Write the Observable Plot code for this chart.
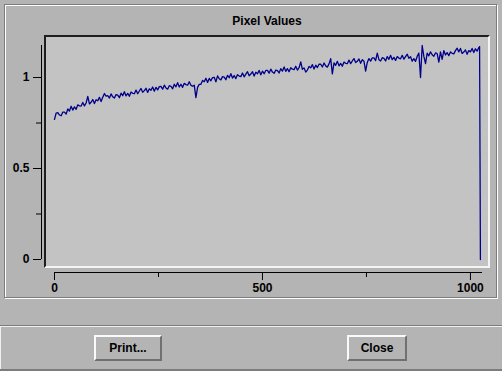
<!DOCTYPE html>
<html>
<head>
<meta charset="utf-8">
<script src="https://cdn.jsdelivr.net/npm/d3@7"></script>
<script src="https://cdn.jsdelivr.net/npm/@observablehq/plot@0.6"></script>
<style>
html, body { margin: 0; padding: 0; background: #b4b4b4; overflow: hidden; }
#root { position: relative; width: 502px; height: 371px; background: #b4b4b4;
  font-family: "Liberation Sans", Arial, sans-serif; font-weight: bold; font-size: 12px; color: #000; }
.groove { position: absolute; left: 4px; top: 4px; width: 493px; height: 294px; box-sizing: border-box;
  border: 1px solid #7c7c7c; box-shadow: inset 1px 1px 0 #fff, 1px 1px 0 #fff; }
.panel { position: absolute; left: 44px; top: 35px; width: 446px; height: 233px; box-sizing: border-box;
  border-style: solid; border-width: 2px; border-color: #1e1e1e #f4f4f4 #f4f4f4 #1e1e1e; background: #c3c3c3; }
#title { position: absolute; left: 44px; width: 446px; top: 15px; line-height: 12px; text-align: center; }
#chart { position: absolute; left: 0; top: 0; }
.bottom { position: absolute; left: 0; top: 325px; width: 502px; height: 46px; box-sizing: border-box;
  border-top: 1px solid #7c7c7c; box-shadow: inset 1px 1px 0 #f0f0f0; border-bottom: 2px solid #7c7c7c; }
.btn { position: absolute; top: 335px; height: 26px; box-sizing: border-box; border-style: solid; border-width: 2px;
  border-color: #fafafa #707070 #707070 #fafafa; text-align: center; line-height: 22px; }
</style>
</head>
<body>
<div id="root">
  <div class="groove"></div>
  <div class="panel"></div>
  <div id="title"></div>
  <div id="chart"></div>
  <div class="bottom"></div>
  <div class="btn" id="print" style="left:94px;width:68px;"></div>
  <div class="btn" id="close" style="left:347px;width:60px;"></div>
</div>
<script>
// ---- data ----
const titleText = "Pixel Values";
const buttonLabels = ["Print...", "Close"];
const sampleStep = 4; // every 4th pixel sample
const pixelValues = [
  0.770,0.805,0.807,0.794,0.790,0.810,0.810,0.799,0.827,0.816,0.842,0.821,0.839,0.825,0.850,0.844,
  0.843,0.863,0.844,0.860,0.896,0.855,0.864,0.879,0.857,0.878,0.872,0.891,0.868,0.891,0.912,0.898,
  0.900,0.887,0.910,0.894,0.887,0.906,0.903,0.889,0.914,0.900,0.922,0.899,0.913,0.897,0.920,0.913,
  0.911,0.931,0.911,0.926,0.940,0.919,0.928,0.941,0.918,0.938,0.930,0.948,0.925,0.946,0.932,0.950,
  0.951,0.936,0.958,0.943,0.936,0.955,0.952,0.938,0.963,0.949,0.972,0.948,0.963,0.946,0.968,0.961,
  0.958,0.977,0.957,0.952,0.958,0.890,0.946,0.962,0.963,0.984,0.977,0.996,0.973,0.995,0.982,1.000,
  1.001,0.976,1.009,0.993,0.987,1.005,1.002,0.988,1.012,0.999,1.021,0.997,1.011,0.994,1.016,1.008,
  1.005,1.025,1.004,1.019,1.032,1.010,1.019,1.032,1.008,1.029,1.021,1.039,1.015,1.035,1.021,1.039,
  1.039,1.024,1.046,1.030,1.023,1.041,1.038,1.025,1.049,1.035,1.058,1.034,1.049,1.032,1.054,1.046,
  1.043,1.062,1.041,1.054,1.086,1.045,1.053,1.030,1.041,1.061,1.053,1.071,1.047,1.068,1.055,1.073,
  1.073,1.058,1.080,1.064,1.057,1.075,1.104,1.020,1.081,1.067,1.089,1.064,1.078,1.062,1.085,1.078,
  1.076,1.096,1.076,1.091,1.104,1.082,1.089,1.102,1.078,1.098,1.090,1.035,1.083,1.104,1.090,1.108,
  1.108,1.093,1.134,1.098,1.091,1.109,1.105,1.091,1.115,1.100,1.122,1.098,1.111,1.094,1.115,1.107,
  1.103,1.122,1.101,1.115,1.128,1.106,1.114,1.090,1.104,1.089,1.116,1.134,1.000,1.176,1.116,1.076,
  1.134,1.119,1.141,1.125,1.117,1.135,1.132,1.085,1.141,1.100,1.148,1.124,1.137,1.120,1.141,1.133,
  1.130,1.148,1.161,1.141,1.160,1.132,1.140,1.152,1.128,1.148,1.141,1.160,1.137,1.158,1.145,1.164
];
const tailIndex = [1022, 1023, 1024];
const tailValues = [1.170, 0.585, 0.000];

const xDomain = [0, 1029];
const yDomain = [0, 1.176];
const xMajorTicks = [0, 500, 1000];
const xMinorTicks = [250, 750];
const yMajorTicks = [0, 0.5, 1];
const yMinorTicks = [0.25, 0.75];

// ---- build ----
const series = pixelValues.map((v, k) => ({index: k * sampleStep, value: v}))
  .concat(tailIndex.map((t, k) => ({index: t, value: tailValues[k]})));

document.getElementById("title").textContent = titleText;
document.getElementById("print").textContent = buttonLabels[0];
document.getElementById("close").textContent = buttonLabels[1];

const fmt = d => String(d);
const chart = Plot.plot({
  width: 502,
  height: 300,
  marginLeft: 41,
  marginRight: 20,
  marginTop: 45,
  marginBottom: 28,
  style: {background: "transparent", fontFamily: "'Liberation Sans', Arial, sans-serif", fontSize: "12px", fontWeight: "bold", color: "#000", overflow: "visible"},
  x: {domain: xDomain, range: [54, 482], axis: null, label: null},
  y: {domain: yDomain, range: [259, 45], axis: null, label: null},
  marks: [
    Plot.line(series, {x: "index", y: "value", stroke: "#00008b", strokeWidth: 1.3}),
    Plot.ruleY([yDomain[0]], {x1: xDomain[0], x2: xDomain[1], dy: 13, stroke: "#000"}),
    Plot.ruleX([xDomain[0]], {y1: yDomain[0], y2: yDomain[1], dx: -13, stroke: "#000"}),
    Plot.axisX(xMajorTicks, {anchor: "bottom", tickSize: 8, tickPadding: 3, tickFormat: fmt, label: null, stroke: "#000", fill: "#000"}),
    Plot.axisX(xMinorTicks, {anchor: "bottom", tickSize: 5, text: null, label: null, stroke: "#000"}),
    Plot.axisY(yMajorTicks, {anchor: "left", tickSize: 8, tickPadding: 4, tickFormat: fmt, label: null, stroke: "#000", fill: "#000"}),
    Plot.axisY(yMinorTicks, {anchor: "left", tickSize: 5, text: null, label: null, stroke: "#000"})
  ]
});
document.getElementById("chart").appendChild(chart);
</script>
</body>
</html>
